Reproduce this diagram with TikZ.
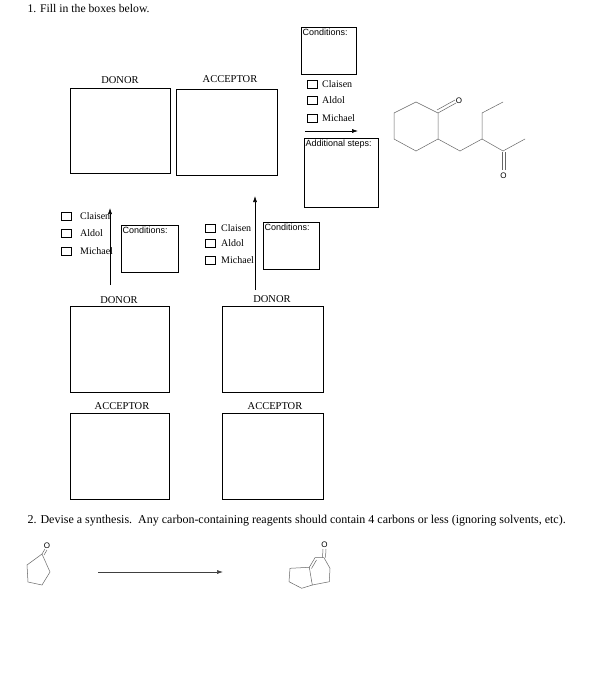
\documentclass[tikz,border=0pt]{standalone}
\usepackage{fontspec}
\setmainfont{Liberation Serif}
\newfontfamily\arialf{Liberation Sans}
\usetikzlibrary{arrows.meta}
\begin{document}
\begin{tikzpicture}[x=1pt,y=-1pt,
  lbl/.style={font=\fontsize{10.5}{11}\selectfont,inner sep=0pt},
  cnd/.style={font=\arialf\fontsize{9}{10}\selectfont,anchor=north west,inner sep=1.5pt},
  cb/.style={draw,minimum width=10pt,minimum height=7.5pt,inner sep=0pt},
  cbt/.style={font=\fontsize{10}{11}\selectfont,anchor=west,inner sep=0pt},
  arr/.style={-{Latex[length=6pt,width=4pt]},semithick},
  bond/.style={gray!80!black,line width=0.5pt},
  atom/.style={font=\arialf\fontsize{8}{8}\selectfont,inner sep=0.5pt}]
\useasboundingbox (0,0) rectangle (604,682);
\fill[white] (0,0) rectangle (604,682);
\node[anchor=west,font=\fontsize{11.7}{12}\selectfont] (t1) at (24,9) {1. Fill in the boxes below.};
% top row
\draw[thick] (301,27) rectangle (356,74); \node[cnd] (c1) at (301,27) {Conditions:};
\node[lbl] (dl1) at (120,80) {DONOR};
\draw[thick] (70,88) rectangle (170,173);
\node[lbl] (al1) at (230,79) {ACCEPTOR};
\draw[thick] (176,89) rectangle (277,175);
\foreach \n/\yy/\t in {a/84/Claisen,b/100/Aldol,c/118/Michael}{
  \node[cb] (tcb\n) at (312.5,\yy) {}; \node[cbt] (tct\n) at (322,\yy) {\t};}
\coordinate (ta1) at (305,131); \coordinate (ta2) at (358,131);
\draw[arr] (ta1) -- (ta2);
\draw[thick] (304,138) rectangle (378,207); \node[cnd] (c2) at (304,138) {Additional steps:};
% left middle
\foreach \n/\yy/\t in {a/216/Claisen,b/233/Aldol,c/251/Michael}{
  \node[cb] (lcb\n) at (66.5,\yy) {}; \node[cbt] (lct\n) at (80,\yy) {\t};}
\coordinate (la1) at (110,285); \coordinate (la2) at (110,208);
\draw[arr] (la1) -- (la2);
\draw[thick] (121,225) rectangle (178,272); \node[cnd] (c3) at (121,225) {Conditions:};
% right middle
\foreach \n/\yy/\t in {a/228/Claisen,b/243/Aldol,c/260/Michael}{
  \node[cb] (mcb\n) at (210.5,\yy) {}; \node[cbt] (mct\n) at (221,\yy) {\t};}
\coordinate (ma1) at (255,290); \coordinate (ma2) at (255,196);
\draw[arr] (ma1) -- (ma2);
\draw[thick] (263,222) rectangle (319,269); \node[cnd] (c4) at (263,222) {Conditions:};
% lower boxes
\node[lbl] (dl2) at (119,300) {DONOR}; \draw[thick] (70,306) rectangle (169,392);
\node[lbl] (al2) at (122,406) {ACCEPTOR}; \draw[thick] (70,413) rectangle (169,499);
\node[lbl] (dl3) at (272,299) {DONOR}; \draw[thick] (222,306) rectangle (323,392);
\node[lbl] (al3) at (275,406) {ACCEPTOR}; \draw[thick] (222,413) rectangle (323,499);
% target molecule
\draw[bond] (394,113)--(394,139)--(416,151)--(438,139)--(438,113)--(416,102)--cycle;
\draw[bond] (438,113)--(456,103); \draw[bond] (437,110)--(455,100);
\node[atom] (o1) at (459,101) {O};
\draw[bond] (438,139)--(460,151)--(482,139)--(482,113)--(503,102);
\draw[bond] (482,139)--(503,151)--(525,139);
\draw[bond] (502,152)--(502,170); \draw[bond] (505,152)--(505,170);
\node[atom] (o2) at (503.5,176) {O};
% part 2
\node[anchor=west,font=\fontsize{12}{13}\selectfont] (t2) at (24,521) {2. Devise a synthesis.\ \ Any carbon-containing reagents should contain 4 carbons or less (ignoring solvents, etc).};
\draw[bond] (42,554)--(50,572)--(42,585)--(28,582)--(27,565)--cycle;
\draw[bond] (42,554)--(45,549); \draw[bond] (44,555)--(47,550);
\node[atom] (o3) at (47,546) {O};
\coordinate (ba1) at (98,572); \coordinate (ba2) at (223,572);
\draw[arr,black!75] (ba1) -- (ba2);
\draw[bond] (309.3,567.3)--(315,557.7)--(324,557.7)--(330,568.3)--(329.3,581.7)--(312.3,585)--cycle;
\draw[bond] (311.5,568.5)--(316.5,560);
\draw[bond] (309.3,567.3)--(290,568.3)--(289,581.7)--(301.7,588.3)--(312.3,585);
\draw[bond] (322.5,557.5)--(323,549); \draw[bond] (325.5,557.5)--(326,549);
\node[atom] (o4) at (324.5,545) {O};
\end{tikzpicture}
\end{document}
